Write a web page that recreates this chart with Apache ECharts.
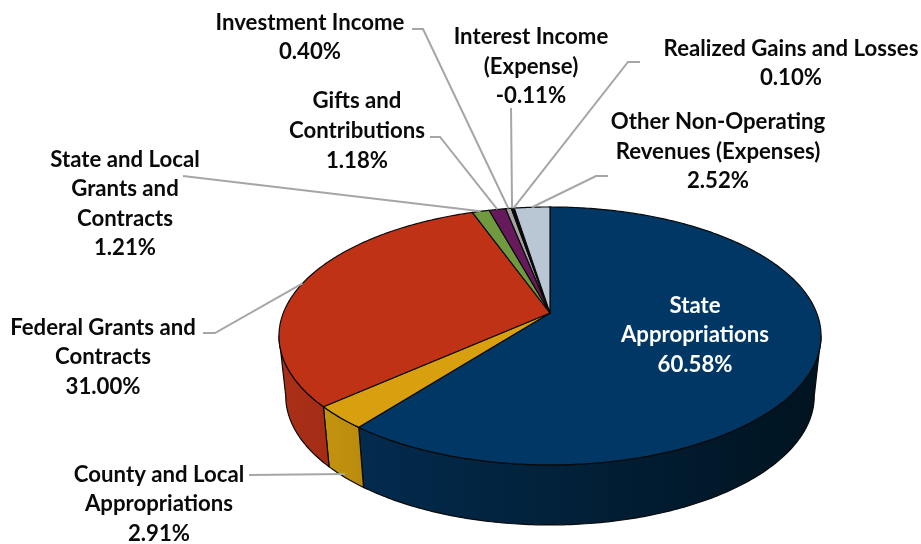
<!DOCTYPE html>
<html>
<head>
<meta charset="utf-8">
<style>html,body{margin:0;padding:0;background:#fff}#chart{width:921px;height:544px}</style>
<script src="https://cdn.jsdelivr.net/npm/echarts@6/dist/echarts.min.js"></script>
</head>
<body>
<div id="chart"></div>
<script>
// ---- data ----
const categories = ['State Appropriations','County and Local Appropriations','Federal Grants and Contracts','State and Local Grants and Contracts','Gifts and Contributions','Investment Income','Interest Income (Expense)','Realized Gains and Losses','Other Non-Operating Revenues (Expenses)'];
const shares = [60.58, 2.91, 31.00, 1.21, 1.18, 0.40, -0.11, 0.10, 2.52];
const labelLines = [
  ['State','Appropriations'],
  ['County and Local','Appropriations'],
  ['Federal Grants and','Contracts'],
  ['State and Local','Grants and','Contracts'],
  ['Gifts and','Contributions'],
  ['Investment Income'],
  ['Interest Income','(Expense)'],
  ['Realized Gains and Losses'],
  ['Other Non-Operating','Revenues (Expenses)']
];
// ---- styles ----
const topColors = ['#003764','#d8a00f','#c03216','#6f9a3f','#661a5c','#a5a5a5','#0d0d0d','#2b2b2b','#b9c7d5'];
const wallColors = [['#032b4e','#00131f'],['#c4940f','#b98a0e'],['#aa2f17','#a42c15'],['#5c7f34','#5c7f34'],['#55164c','#55164c'],['#888888','#888888'],['#000000','#000000'],['#222222','#222222'],['#99a6b1','#99a6b1']];
// ---- layout ----
const labelPos = [ // centre x, first line centre y, line step, leader elbow points
  {x:695,y:306,step:29.3,color:'#fff'},
  {x:159,y:475,step:29.3,line:[[249,475]],end:[345,474]},
  {x:103,y:328,step:29.3,line:[[203,333],[215,333]]},
  {x:125,y:160,step:29.3,line:[[183,176]]},
  {x:357,y:101,step:29.8,line:[[430,137],[440,137]]},
  {x:310,y:23,step:29.3,line:[[412,29],[423,29]]},
  {x:531,y:37,step:29.5,line:[[511,108]]},
  {x:791,y:49,step:29.3,line:[[640,62],[628,62]]},
  {x:718,y:122,step:29.6,line:[[608,176],[596,176]]}
];
const CX = 550, CY = 313, A = 266.7, B = 124.9, K = 0.178, DEPTH = 60, SHRINK = 0.975;
const FONT = '700 22.2px Lato, "Open Sans", sans-serif';

const total = shares.reduce((s, v) => s + Math.abs(v), 0);
const starts = [];
shares.reduce((acc, v, i) => { starts[i] = acc; return acc + Math.abs(v) / total * Math.PI * 2; }, 0);
const project = (t) => {
  const u = Math.sin(t), v = Math.cos(t), w = 1 + K * v;
  return [CX + A * u / w, CY - B * v / w];
};
const lower = (p) => [CX + (p[0] - CX) * SHRINK, p[1] + DEPTH];
const tVisA = Math.acos(-K), tVisB = 2 * Math.PI - tVisA;
const arc = (a, b) => {
  const n = Math.max(2, Math.ceil((b - a) / 0.012)), pts = [];
  for (let i = 0; i <= n; i++) pts.push(project(a + (b - a) * i / n));
  return pts;
};

function renderItem(params) {
  const i = params.dataIndex;
  const a = starts[i], b = a + Math.abs(shares[i]) / total * Math.PI * 2;
  const children = [];
  const wa = Math.max(a, tVisA), wb = Math.min(b, tVisB);
  if (wb > wa) {
    const rim = arc(wa, wb);
    children.push({
      type: 'polygon', z2: 1,
      shape: { points: rim.concat(rim.map(lower).reverse()) },
      style: {
        fill: new echarts.graphic.LinearGradient(0, 0, 1, 0, [{offset:0,color:wallColors[i][0]},{offset:1,color:wallColors[i][1]}]),
        stroke: '#0a0a0a', lineWidth: 1.2, lineJoin: 'round'
      }
    });
  }
  children.push({
    type: 'polygon', z2: 2,
    shape: { points: [[CX, CY]].concat(arc(a, b)) },
    style: { fill: topColors[i], stroke: '#0a0a0a', lineWidth: 1.2, lineJoin: 'round' }
  });
  const lp = labelPos[i];
  if (lp.line) {
    const end = lp.end || project((a + b) / 2);
    children.push({
      type: 'polyline', z2: 3,
      shape: { points: lp.line.concat([end]) },
      style: { fill: 'none', stroke: '#a6a6a6', lineWidth: 2 }
    });
  }
  const pct = shares[i].toFixed(2) + '%';
  labelLines[i].concat([pct]).forEach((txt, k) => {
    children.push({
      type: 'text', z2: 4,
      style: { text: txt, x: lp.x, y: lp.y + k * lp.step, align: 'center', verticalAlign: 'middle', font: FONT, fill: lp.color || '#0a0a0a' }
    });
  });
  return { type: 'group', children };
}

const chart = echarts.init(document.getElementById('chart'), null, { renderer: 'canvas' });
chart.setOption({
  animation: false,
  backgroundColor: '#ffffff',
  series: [{
    type: 'custom',
    coordinateSystem: 'none',
    silent: true,
    renderItem,
    data: categories.map((name, i) => ({ name, value: [i, shares[i]] }))
  }]
});
</script>
</body>
</html>
